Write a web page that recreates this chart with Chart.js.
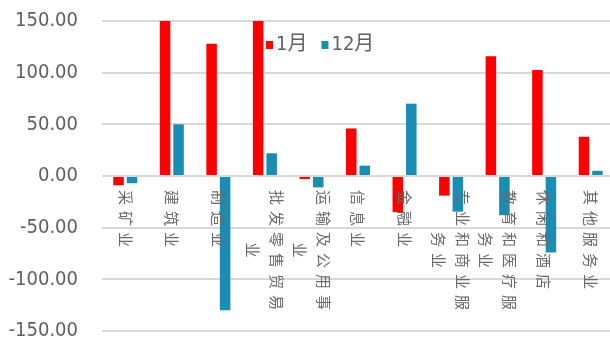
<!DOCTYPE html>
<html>
<head>
<meta charset="utf-8">
<script src="https://cdn.jsdelivr.net/npm/chart.js@4/dist/chart.umd.min.js"></script>
<style>
html,body{margin:0;padding:0;background:#fff;overflow:hidden;}
#wrap{width:614px;height:361px;}
</style>
</head>
<body>
<div id="wrap"><canvas id="c" width="614" height="361"></canvas></div>
<script>
const categories = ['采矿业','建筑业','制造业','批发零售贸易业','运输及公用事业','信息业','金融业','专业和商业服务业','教育和医疗服务业','休闲和酒店','其他服务业'];
const seriesNames = ['1月','12月'];
const janValues = [-9, 150, 128, 150, -3, 46, -35, -19, 116, 102.5, 38];
const decValues = [-7, 50, -130, 22, -11, 10, 70, -34.5, -38, -74, 5];
const yMin = -150, yMax = 150, yStep = 50;

const RED = '#FF0000', BLUE = '#1A8DB5', GRAY = '#606060';
const NUM_FONT = '"Liberation Sans Narrow","DejaVu Sans Condensed","Noto Sans CJK SC",sans-serif';

const catLabelPlugin = {
  id: 'catLabels',
  afterDatasetsDraw(chart) {
    const ctx = chart.ctx, xs = chart.scales.x, ys = chart.scales.y;
    const y0 = ys.getPixelForValue(0) + 14;
    ctx.save();
    ctx.fillStyle = '#6a6a6a';
    ctx.font = '15px "Noto Sans CJK SC", sans-serif';
    ctx.letterSpacing = '6px';
    ctx.textAlign = 'left';
    ctx.textBaseline = 'middle';
    categories.forEach((lab, i) => {
      const lines = [];
      for (let k = 0; k < lab.length; k += 6) lines.push(lab.slice(k, k + 6));
      const widths = lines.map(l => ctx.measureText(l).width);
      const maxW = Math.max(...widths);
      const cx = xs.getPixelForValue(i);
      const n = lines.length;
      lines.forEach((ln, k) => {
        const lx = cx + ((n - 1) / 2 - k) * 24;
        ctx.save();
        ctx.translate(lx, y0 + (maxW - widths[k]) / 2);
        ctx.rotate(Math.PI / 2);
        ctx.fillText(ln, 0, 0);
        ctx.restore();
      });
    });
    ctx.restore();
  }
};

const legendPlugin = {
  id: 'customLegend',
  afterDraw(chart) {
    const ctx = chart.ctx;
    ctx.save();
    ctx.font = '20px ' + NUM_FONT;
    ctx.textBaseline = 'middle';
    ctx.textAlign = 'left';
    let x = 266;
    const y = 45;
    chart.data.datasets.forEach(ds => {
      ctx.fillStyle = ds.backgroundColor;
      ctx.fillRect(x, y - 4, 7, 8);
      ctx.fillStyle = GRAY;
      ctx.fillText(ds.label, x + 10, y);
      x += 10 + ctx.measureText(ds.label).width + 14;
    });
    ctx.restore();
  }
};

new Chart(document.getElementById('c'), {
  type: 'bar',
  data: {
    labels: categories,
    datasets: [
      { label: seriesNames[0], data: janValues, backgroundColor: RED },
      { label: seriesNames[1], data: decValues, backgroundColor: BLUE }
    ]
  },
  options: {
    responsive: false,
    animation: false,
    devicePixelRatio: 1,
    categoryPercentage: 0.58,
    barPercentage: 0.78,
    layout: { padding: { top: 21, bottom: 30, left: 0, right: 0 } },
    plugins: { legend: { display: false }, tooltip: { enabled: false } },
    scales: {
      x: { display: false, offset: true },
      y: {
        min: yMin, max: yMax,
        afterFit(s) { s.width = 102; s.paddingTop = 0; s.paddingBottom = 0; },
        border: { display: false },
        grid: { color: '#D9D9D9', lineWidth: 2, drawTicks: false },
        ticks: {
          stepSize: yStep, padding: 24, color: GRAY,
          font: { family: NUM_FONT, size: 20 },
          callback: v => v.toFixed(2)
        }
      }
    }
  },
  plugins: [catLabelPlugin, legendPlugin]
});
</script>
</body>
</html>
